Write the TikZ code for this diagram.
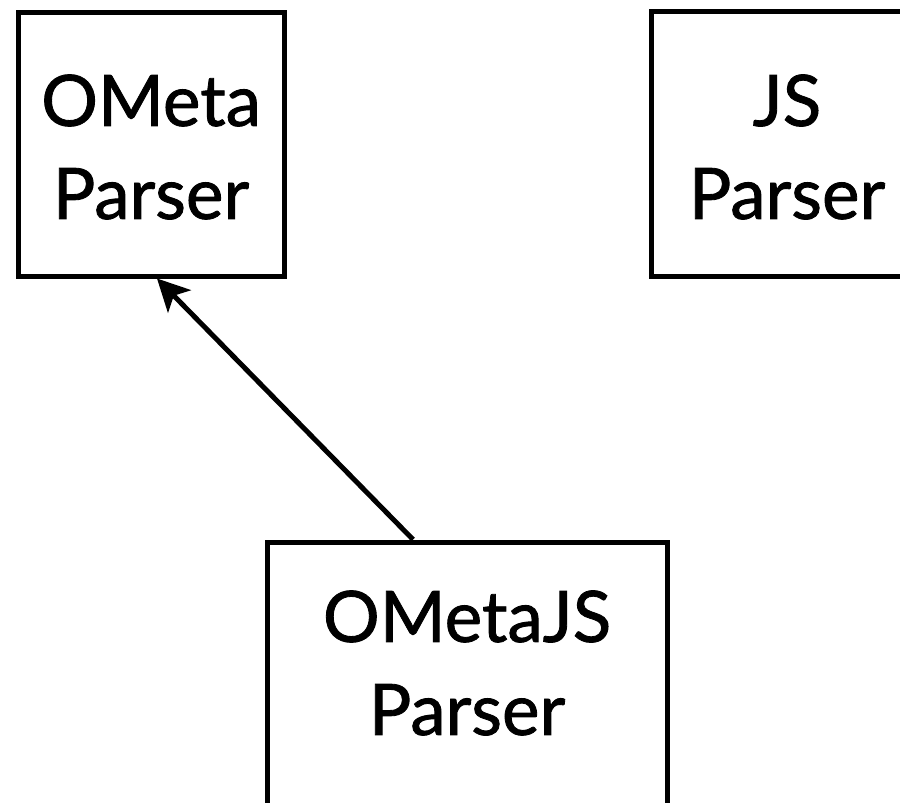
\documentclass[tikz,border=0pt]{standalone}
\usepackage{fontspec}
\setmainfont{Lato}
\newfontfamily\boxfont{Lato}[FakeBold=1.2]
\usepackage{tikz}
\usetikzlibrary{arrows.meta, positioning}
\tikzset{
  parserbox/.style={draw, line width=5pt, inner sep=0pt},
  parsertext/.style={align=center, inner sep=0pt,
    font=\boxfont\fontsize{71}{93}\selectfont},
  arr/.style={-{Stealth[length=32pt, width=32pt, inset=8pt]}, line width=5pt},
}

\begin{document}
\begin{tikzpicture}[x=1pt, y=-1pt]
  \useasboundingbox (0,0) rectangle (900,803);
  \clip (0,0) rectangle (900,803);

  % Boxes
  \node[parserbox, minimum width=266pt, minimum height=264pt] (ometa) at (151,144) {};
  \node[parserbox, minimum width=278pt, minimum height=265pt] (js) at (790,143.5) {};
  \node[parserbox, minimum width=400pt, minimum height=300pt] (ojs) at (467,692) {};

  % Labels
  \node[parsertext] (ometatxt) at (151,147) {OMeta\\Parser};
  \node[parsertext] (jstxt) at (787,147) {JS\\Parser};
  \node[parsertext] (ojstxt) at (467,663) {OMetaJS\\Parser};

  % Arrow
  \draw[arr] ([xshift=-54pt]ojs.north) -- ([xshift=6pt]ometa.south);
\end{tikzpicture}
\end{document}
